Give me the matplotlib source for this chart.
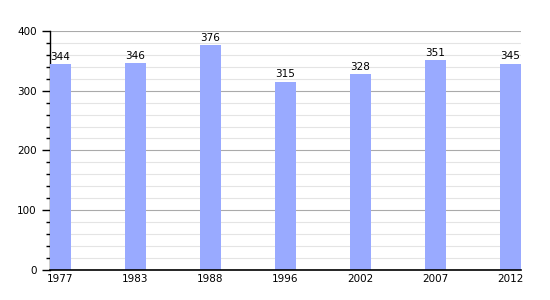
import matplotlib
matplotlib.use('Agg')
import matplotlib.pyplot as plt
from matplotlib.ticker import MultipleLocator

matplotlib.rcParams['font.family'] = 'DejaVu Sans'
matplotlib.rcParams['font.size'] = 7.5

years = ['1977', '1983', '1988', '1996', '2002', '2007', '2012']
population = [344, 346, 376, 315, 328, 351, 345]

fig = plt.figure(figsize=(5.5, 3), dpi=100)
ax = fig.add_axes([0.0909, 0.1, 0.8564, 0.797])

x = range(len(years))
ax.bar(x, population, width=0.28, color='#99aaff', zorder=3)
for i, v in enumerate(population):
    ax.text(i, v + 4, str(v), ha='center', va='bottom', fontsize=7.5, zorder=4)

ax.set_xlim(-0.14, len(years) - 1 + 0.14)
ax.set_ylim(0, 400)
ax.set_xticks(list(x))
ax.set_xticklabels(years)
ax.tick_params(axis='x', length=0, pad=3)

ax.yaxis.set_major_locator(MultipleLocator(100))
ax.yaxis.set_minor_locator(MultipleLocator(20))
ax.tick_params(axis='y', which='major', length=6, width=1)
ax.tick_params(axis='y', which='minor', length=3, width=1)
ax.grid(axis='y', which='major', color='#aaaaaa', linewidth=0.8, zorder=0)
ax.grid(axis='y', which='minor', color='#e4e4e4', linewidth=0.8, zorder=0)

for s in ['top', 'right']:
    ax.spines[s].set_visible(False)
ax.spines['left'].set_linewidth(1)
ax.spines['bottom'].set_linewidth(1.2)
ax.spines['bottom'].set_zorder(5)

fig.savefig('out.png', dpi=100)
